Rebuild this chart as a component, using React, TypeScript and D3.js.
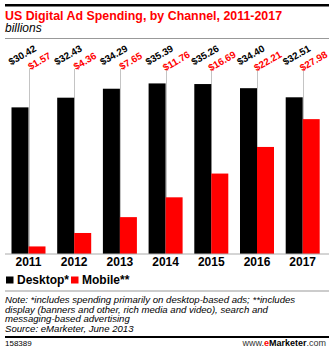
import React from "react";
import * as d3 from "d3";

const years = ["2011", "2012", "2013", "2014", "2015", "2016", "2017"];
const desktop = [30.42, 32.43, 34.29, 35.39, 35.26, 34.4, 32.51];
const mobile = [1.57, 4.36, 7.65, 11.76, 16.69, 22.21, 27.98];
const seriesKeys = ["Desktop*", "Mobile**"];
const noteLines = [
  "Note: *includes spending primarily on desktop-based ads; **includes",
  "display (banners and other, rich media and video), search and",
  "messaging-based advertising",
  "Source: eMarketer, June 2013",
];

const W = 334;
const H = 354;
const FONT = "'Liberation Sans', Arial, sans-serif";
const RED = "#ff0000";

export default function App() {
  const x = d3
    .scaleBand<string>()
    .domain(years)
    .range([5.65, 325.55])
    .paddingInner(0.256)
    .paddingOuter(0.128);
  const sub = d3
    .scaleBand<string>()
    .domain(seriesKeys)
    .range([0, x.bandwidth()]);
  const y = d3.scaleLinear().domain([0, 40]).range([254, 254 - 40 * 4.82]);
  const fmt = (v: number) => "$" + d3.format(".2f")(v);
  const colors = ["#000000", RED];
  const series = [desktop, mobile];

  return (
    <svg
      width={W}
      height={H}
      style={{ position: "absolute", left: 0, top: 0, background: "#fff" }}
      fontFamily={FONT}
    >
      <rect x={0} y={0} width={W} height={H} fill="#fff" />
      <rect x={5} y={4} width={324} height={2.5} fill="#000" />
      <text x={5} y={19.5} fill={RED} fontWeight="bold" fontSize={12.4}>
        US Digital Ad Spending, by Channel, 2011-2017
      </text>
      <text x={5} y={32} fill="#000" fontStyle="italic" fontSize={12}>
        billions
      </text>
      <line x1={5} x2={329} y1={38.5} y2={38.5} stroke="#999" strokeWidth={1} />

      {years.map((yr) => {
        const cx = Math.round((x(yr) as number) + x.bandwidth() / 2) + 0.5;
        return (
          <line
            key={"g" + yr}
            x1={cx}
            x2={cx}
            y1={69}
            y2={254}
            stroke="#c4c4c4"
            strokeWidth={1}
          />
        );
      })}

      {series.map((vals, si) =>
        vals.map((v, i) => {
          const x0 = (x(years[i]) as number) + (sub(seriesKeys[si]) as number);
          return (
            <rect
              key={si + "-" + i}
              x={x0}
              y={y(v)}
              width={sub.bandwidth()}
              height={y(0) - y(v)}
              fill={colors[si]}
            />
          );
        })
      )}

      {series.map((vals, si) =>
        vals.map((v, i) => {
          const cx =
            (x(years[i]) as number) +
            (sub(seriesKeys[si]) as number) +
            sub.bandwidth() / 2 +
            4;
          const cy = si === 0 ? 58 : 64;
          return (
            <g key={"l" + si + "-" + i} transform={`translate(${cx},${cy})`}>
              <g transform="rotate(-30)">
                <text
                  x={0}
                  y={0}
                  textAnchor="middle"
                  fontWeight="bold"
                  fontSize={9.8}
                  fill={colors[si]}
                >
                  {fmt(v)}
                </text>
              </g>
            </g>
          );
        })
      )}

      <line x1={5} x2={329} y1={254} y2={254} stroke="#aaa" strokeWidth={1} />

      {years.map((yr) => (
        <text
          key={"y" + yr}
          x={(x(yr) as number) + x.bandwidth() / 2}
          y={266}
          textAnchor="middle"
          fontWeight="bold"
          fontSize={12}
          fill="#000"
        >
          {yr}
        </text>
      ))}

      {seriesKeys.map((k, i) => {
        const lx = i === 0 ? 6 : 71;
        return (
          <g key={"lg" + k}>
            <rect x={lx} y={276.5} width={7.5} height={7} fill={colors[i]} />
            <text x={lx + 11} y={283.5} fontWeight="bold" fontSize={12} fill="#000">
              {k}
            </text>
          </g>
        );
      })}

      <line x1={5} x2={329} y1={291} y2={291} stroke="#999" strokeWidth={1} />
      {noteLines.map((t, i) => (
        <text
          key={"n" + i}
          x={5}
          y={303 + i * 9.5}
          fontStyle="italic"
          fontSize={9.6}
          fill="#000"
        >
          {t}
        </text>
      ))}

      <rect x={5} y={336} width={324} height={2} fill="#000" />
      <text x={5} y={345.5} fontSize={8} fill="#000">
        158389
      </text>
      <text x={326} y={346} fontSize={9} textAnchor="end" fill="#333">
        www.
        <tspan fill={RED} fontWeight="bold">e</tspan>
        <tspan fill="#000" fontWeight="bold">Marketer</tspan>
        .com
      </text>
    </svg>
  );
}
